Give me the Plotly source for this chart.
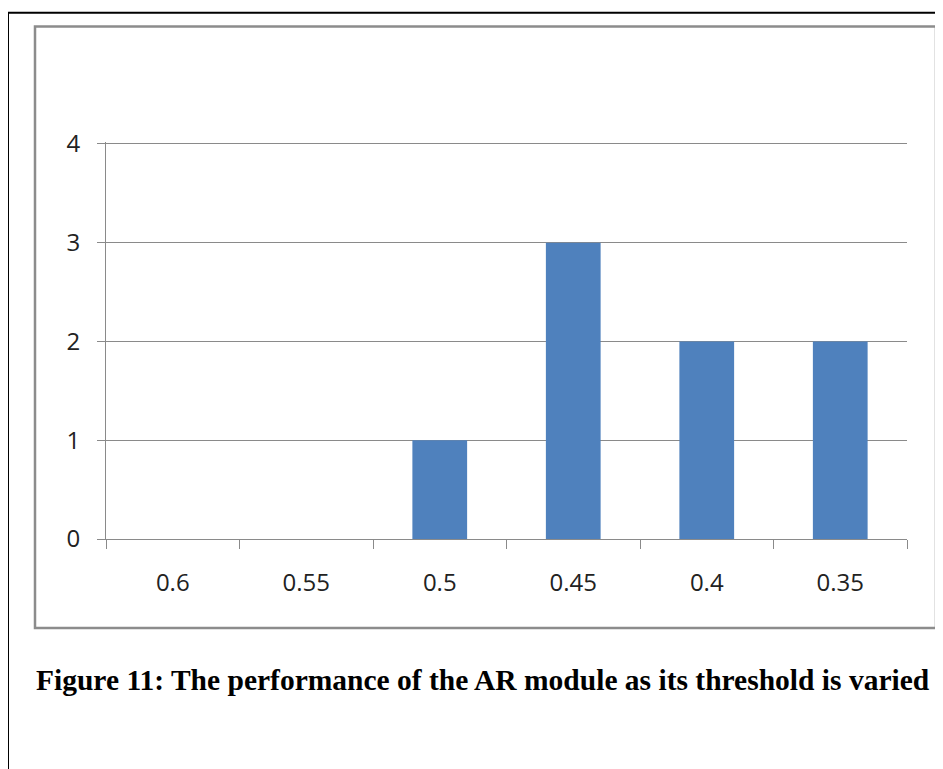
import plotly.graph_objects as go

categories = ["0.6", "0.55", "0.5", "0.45", "0.4", "0.35"]
values = [0, 0, 1, 3, 2, 2]
y_ticks = [0, 1, 2, 3, 4]
caption = "Figure 11: The performance of the AR module as its threshold is varied"

W, H = 943, 769
OFF = 8  # page body margin
YMAX = 4.02
B0, T4 = 539, 143.5  # pixel rows of y=0 and y=4 in the reference
T0 = B0 - (B0 - T4) * YMAX / 4
L, R, T, B = 106 - OFF, 907 - OFF, T0 - OFF, B0 - OFF

def px(x):
    return (x - OFF - L) / (R - L)

def py(y):
    return (B - (y - OFF)) / (B - T)

fig = go.Figure()
fig.add_trace(go.Bar(
    x=categories, y=values,
    marker=dict(color="#4F81BD", line=dict(width=0)),
    width=0.41,
))

fig.update_layout(
    width=W, height=H,
    margin=dict(l=L, r=W - R, t=T, b=H - B, pad=0),
    paper_bgcolor="white", plot_bgcolor="white",
    showlegend=False,
    bargap=0.59,
    font=dict(family="Open Sans", size=24, color="#222"),
    xaxis=dict(
        type="category", tickson="boundaries", ticks="outside", ticklen=9,
        tickcolor="#8a8a8a", tickwidth=1,
        showline=True, linecolor="#8a8a8a", linewidth=1,
        showgrid=False, ticklabelstandoff=22,
        tickfont=dict(family="Open Sans", size=24, color="#222"),
    ),
    yaxis=dict(
        range=[0, YMAX], tickvals=y_ticks, ticks="outside", ticklen=8,
        tickcolor="#8a8a8a", tickwidth=1,
        showline=True, linecolor="#8a8a8a", linewidth=1,
        showgrid=True, gridcolor="#8a8a8a", gridwidth=1,
        zeroline=False, ticklabelstandoff=12,
        tickfont=dict(family="Open Sans", size=24, color="#222"),
    ),
    shapes=[
        dict(type="rect", xref="paper", yref="paper",
             x0=px(8), x1=px(990), y0=py(12), y1=py(820),
             line=dict(color="black", width=2), fillcolor="rgba(0,0,0,0)", layer="above"),
        dict(type="rect", xref="paper", yref="paper",
             x0=px(35), x1=px(936), y0=py(26), y1=py(628),
             line=dict(color="#8c8c8c", width=2.5), fillcolor="rgba(0,0,0,0)", layer="above"),
    ],
    annotations=[
        dict(text="<b>" + caption + "</b>", xref="paper", yref="paper",
             x=px(483), y=py(680), xanchor="center", yanchor="middle",
             showarrow=False,
             font=dict(family="Liberation Serif", size=29.5, color="black")),
    ],
)

fig.write_html("out.html")
